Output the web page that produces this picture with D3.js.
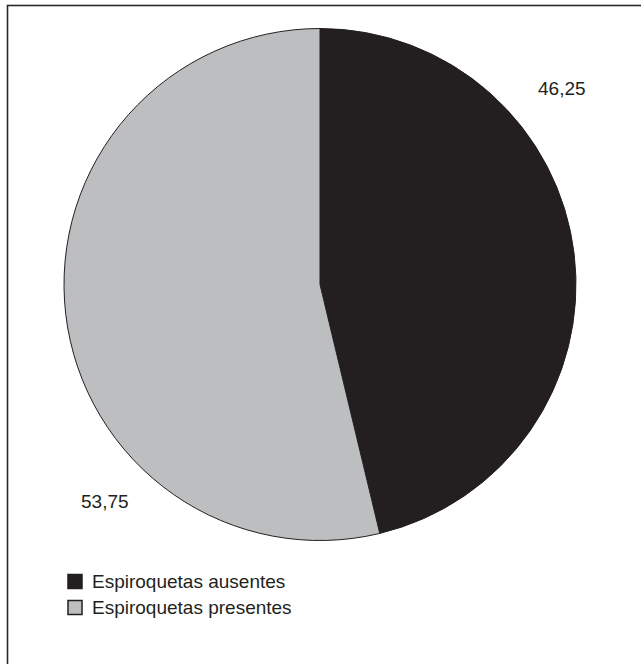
<!DOCTYPE html>
<html>
<head>
<meta charset="utf-8">
<script src="https://cdn.jsdelivr.net/npm/d3@7"></script>
<style>
html,body{margin:0;padding:0;background:#fff;}
svg{display:block;}
text{font-family:"Liberation Sans",Arial,Helvetica,sans-serif;fill:#231f20;}
</style>
</head>
<body>
<svg id="chart" width="641" height="664"></svg>
<script>
const categories = ["Espiroquetas ausentes", "Espiroquetas presentes"];
const values = [46.25, 53.75];
const valueLabels = ["46,25", "53,75"];
const colors = ["#231f20", "#bcbec0"];

const svg = d3.select("#chart");
const W = 641, H = 664;

// frame (only top and left edges visible in the crop)
svg.append("rect")
  .attr("x", 7.5).attr("y", 5.5)
  .attr("width", 700).attr("height", 700)
  .attr("fill", "none").attr("stroke", "#2a2a2a").attr("stroke-width", 1.6);

const cx = 320, cy = 284.5, r = 256;
const data = categories.map((c, i) => ({cat: c, value: values[i], label: valueLabels[i], color: colors[i]}));

const pie = d3.pie().value(d => d.value).sort(null).startAngle(0).endAngle(2 * Math.PI);
const arc = d3.arc().innerRadius(0).outerRadius(r);
const arcs = pie(data);

const g = svg.append("g").attr("transform", `translate(${cx},${cy})`);
g.selectAll("path").data(arcs).enter().append("path")
  .attr("d", arc)
  .attr("fill", d => d.data.color)
  .attr("stroke", "#231f20")
  .attr("stroke-width", 1);

// value labels placed outside slices
const labelPos = [[538, 95], [81, 508]];
svg.selectAll("text.val").data(arcs).enter().append("text")
  .attr("class", "val")
  .attr("x", (d, i) => labelPos[i][0])
  .attr("y", (d, i) => labelPos[i][1])
  .attr("font-size", 19)
  .text(d => d.data.label);

// legend
const lg = svg.append("g").attr("transform", "translate(67,574)");
const rows = lg.selectAll("g").data(data).enter().append("g")
  .attr("transform", (d, i) => `translate(0,${i * 26})`);
rows.append("rect")
  .attr("x", 1).attr("y", 0.5)
  .attr("width", 14).attr("height", 14)
  .attr("fill", d => d.color)
  .attr("stroke", "#231f20").attr("stroke-width", 1.5);
rows.append("text")
  .attr("x", 25).attr("y", 14)
  .attr("font-size", 19)
  .text(d => d.cat);
</script>
</body>
</html>
